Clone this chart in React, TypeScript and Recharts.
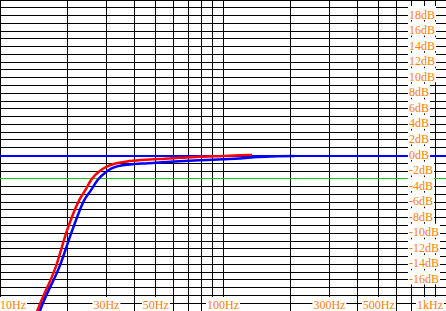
import {
  LineChart,
  Line,
  XAxis,
  YAxis,
  CartesianGrid,
  ReferenceLine,
} from "recharts";

const W = 446;
const H = 311;
const AXIS_PAD = 30; // axes sit outside the visible window; labels are drawn back inside
const ORANGE = "#ff8000";
const FONT = "'Liberation Serif', 'Times New Roman', serif";

// measured responses (Hz / dB)
const redFreq = [14.3, 14.7, 17.9, 20.0, 22.7, 24.2, 25.6, 28.4, 30.3, 33.2, 38.1, 46.9, 55, 63.8, 78.5, 100, 118.6, 135];
const redDb = [-21, -20, -14.1, -9.6, -5.7, -4.4, -3.15, -1.86, -1.4, -1.0, -0.72, -0.52, -0.42, -0.3, -0.15, -0.05, 0.03, 0.05];

const blueFreq = [14.7, 15.1, 18.6, 21.1, 23.9, 25.6, 27.4, 30.0, 31.0, 33.5, 38.1, 46, 53.5, 63.8, 78.5, 100, 118.6, 143, 175, 209];
const blueDb = [-21, -20, -14.1, -9.6, -5.7, -4.45, -3.15, -2.08, -1.8, -1.4, -1.15, -1.0, -0.88, -0.75, -0.62, -0.48, -0.38, -0.2, -0.1, -0.05];

// grid lines (no line on the 10Hz / 1kHz edges)
const gridFreqs = [20, 30, 40, 50, 60, 70, 80, 90, 100, 200, 300, 400, 500, 600, 700, 800, 900];
const labelFreqs = [10, 30, 50, 100, 300, 500, 1000];
const freqLabels: Record<number, string> = {
  10: "10Hz",
  30: "30Hz",
  50: "50Hz",
  100: "100Hz",
  300: "300Hz",
  500: "500Hz",
  1000: "1kHz",
};

const dbTicks = [-19, -18, -17, -16, -15, -14, -13, -12, -11, -10, -9, -8, -7, -6, -5, -4, -3, -2, -1, 0, 1, 2, 3, 4, 5, 6, 7, 8, 9, 10, 11, 12, 13, 14, 15, 16, 17, 18, 19];
const dbLabels = [18, 16, 14, 12, 10, 8, 6, 4, 2, 0, -2, -4, -6, -8, -10, -12, -14, -16];

const redData = redFreq.map((f, i) => ({ f, db: redDb[i] }));
const blueData = blueFreq.map((f, i) => ({ f, db: blueDb[i] }));

const charW: Record<string, number> = { H: 8.67, z: 5.33, k: 6, d: 6, B: 8, "-": 4 };
const textWidth = (s: string) =>
  s.split("").reduce((w, c) => w + (charW[c] ?? 6), 0);

const XTick = (props: any) => {
  const { x, payload } = props;
  const label = freqLabels[payload.value];
  if (!label) return <g />;
  const w = textWidth(label);
  let left = x - w / 2;
  if (left < 0) left = 0;
  if (left + w > W - 3) left = W - 3 - w;
  return (
    <g>
      <rect x={left - 1} y={H - 14} width={w + 2} height={14} fill="#fff" />
      <text x={left} y={H - 2.5} fill={ORANGE} fontSize={12} fontFamily={FONT}>
        {label}
      </text>
    </g>
  );
};

const YTick = (props: any) => {
  const { y, payload } = props;
  if (!dbLabels.includes(payload.value)) return <g />;
  const label = `${payload.value}dB`;
  const w = textWidth(label);
  const left = W - 37;
  return (
    <g>
      <rect x={left - 1} y={y - 9.5} width={w + 2} height={14} fill="#fff" />
      <text x={left} y={y + 3} fill={ORANGE} fontSize={12} fontFamily={FONT}>
        {label}
      </text>
    </g>
  );
};

export default function App() {
  return (
    <div style={{ position: "absolute", left: 0, top: 0, background: "#fff" }}>
      <style>{".recharts-cartesian-grid line, .recharts-reference-line line { shape-rendering: crispEdges; }"}</style>
      <LineChart
        width={W + AXIS_PAD}
        height={H + AXIS_PAD}
        margin={{ top: 0, right: 0, bottom: 0, left: 0 }}
      >
        <CartesianGrid stroke="#000" strokeWidth={1} xAxisId="g" />
        <ReferenceLine y={-3} xAxisId="g" stroke="#11cc11" strokeWidth={1} />
        <XAxis
          xAxisId="g"
          dataKey="f"
          type="number"
          scale="log"
          domain={[10, 1000]}
          ticks={gridFreqs}
          interval={0}
          allowDataOverflow
          height={0}
          hide
        />
        <XAxis
          xAxisId="lab"
          dataKey="f"
          type="number"
          scale="log"
          domain={[10, 1000]}
          ticks={labelFreqs}
          interval={0}
          allowDataOverflow
          height={AXIS_PAD}
          axisLine={false}
          tickLine={false}
          tick={XTick}
        />
        <YAxis
          type="number"
          orientation="right"
          domain={[-20, 20]}
          ticks={dbTicks}
          interval={0}
          allowDataOverflow
          width={AXIS_PAD}
          axisLine={false}
          tickLine={false}
          tick={YTick}
        />
        <ReferenceLine y={0} xAxisId="g" stroke="#0000ff" strokeWidth={2} zIndex={600} />
        <Line
          xAxisId="g"
          data={redData}
          dataKey="db"
          type="monotone"
          stroke="#ff0000"
          strokeWidth={2.5}
          dot={false}
          isAnimationActive={false}
          zIndex={600}
        />
        <Line
          xAxisId="g"
          data={blueData}
          dataKey="db"
          type="monotone"
          stroke="#0000ff"
          strokeWidth={2.5}
          dot={false}
          isAnimationActive={false}
          zIndex={601}
        />
      </LineChart>
    </div>
  );
}
